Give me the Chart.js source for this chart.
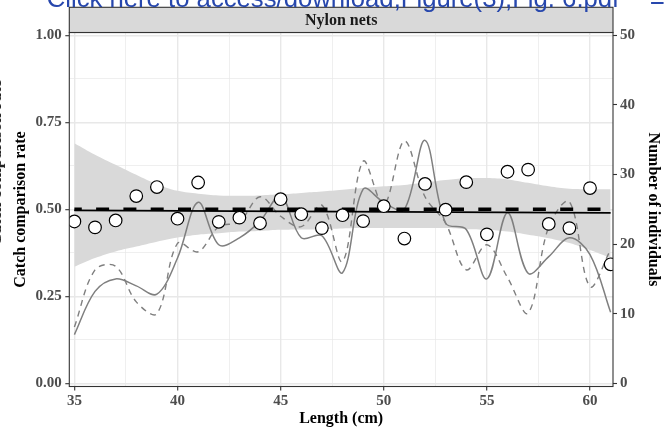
<!DOCTYPE html>
<html>
<head>
<meta charset="utf-8">
<script src="https://cdn.jsdelivr.net/npm/chart.js@4.4.1/dist/chart.umd.min.js"></script>
<style>
  html, body { margin: 0; padding: 0; background: #fff; }
  #wrap { width: 668px; height: 435px; position: relative; }
</style>
</head>
<body>
<div id="wrap"><canvas id="chart" width="668" height="435"></canvas></div>
<script>
// Length classes (cm)
const LENGTHS = [35,36,37,38,39,40,41,42,43,44,45,46,47,48,49,50,51,52,53,54,55,56,57,58,59,60,61];

// Observed catch comparison rate per length class
const CCR = [0.465,0.448,0.468,0.538,0.564,0.473,0.577,0.464,0.476,0.460,0.529,0.486,0.446,0.483,
             0.466,0.509,0.416,0.573,0.499,0.578,0.428,0.608,0.614,0.458,0.446,0.561,0.342];

// Number of individuals caught (right axis): test gear (solid) and control gear (dashed)
const COUNT_TEST = [7.0,13.2,15.0,14.0,12.8,18.0,26.0,19.9,20.9,23.3,26.9,20.9,21.2,15.9,
                    27.9,26.0,25.0,34.9,23.0,22.1,15.0,24.5,15.8,18.2,20.9,18.5,10.2];
const COUNT_CONTROL = [8.1,16.3,16.8,11.7,10.0,20.1,18.9,22.5,23.2,26.8,24.0,22.5,25.6,17.5,
                       31.9,25.6,34.8,26.8,23.0,16.3,19.9,15.2,10.1,22.5,26.1,13.9,19.2];

// Confidence band of the fitted curve
const CI_UPPER = [0.690,0.657,0.628,0.599,0.572,0.553,0.545,0.540,0.539,0.540,0.543,0.547,0.551,0.556,
                  0.561,0.566,0.570,0.577,0.584,0.589,0.590,0.586,0.576,0.566,0.559,0.558,0.558];
const CI_LOWER = [0.335,0.360,0.379,0.393,0.407,0.419,0.427,0.431,0.436,0.438,0.441,0.442,0.443,0.445,
                  0.446,0.446,0.446,0.446,0.446,0.443,0.441,0.436,0.427,0.417,0.403,0.383,0.360];

// Fitted catch comparison curve and the 0.5 reference line
const FIT_X = [35, 61];
const FIT_Y = [0.497, 0.490];
const REF_X = [35, 61];
const REF_Y = [0.5, 0.5];

// Axis ticks
const X_TICKS = [35, 40, 45, 50, 55, 60];
const Y_TICKS = [0, 0.25, 0.5, 0.75, 1];
const RIGHT_TICKS = [0, 10, 20, 30, 40, 50];

const PANEL_TITLE = 'Nylon nets';
const X_TITLE = 'Length (cm)';
const Y_TITLE = 'Catch comparison rate';
const RIGHT_TITLE = 'Number of individuals';
const LINK_TEXT = 'Click here to access/download;Figure(3);Fig. 6.pdf';

const SERIF = "'Liberation Serif', 'Times New Roman', serif";
const STRIP_TOP = 7.3;

function withMinor(major) {
  const out = [];
  major.forEach((v, i) => {
    out.push(v);
    if (i < major.length - 1) out.push((v + major[i + 1]) / 2);
  });
  return out;
}
const X_ALL = withMinor(X_TICKS);
const Y_ALL = withMinor(Y_TICKS);

const pts = (xs, ys) => xs.map((x, i) => ({x, y: ys[i]}));
const isMajor = (list, c) => c.tick && list.includes(c.tick.value);

const panelDecor = {
  id: 'panelDecor',
  afterDatasetsDraw(chart) {
    const {ctx, chartArea: a} = chart;
    ctx.save();
    ctx.strokeStyle = '#333333';
    ctx.lineWidth = 1.1;
    ctx.strokeRect(a.left, a.top, a.right - a.left, a.bottom - a.top);
    ctx.restore();
  },
  afterDraw(chart) {
    const {ctx, chartArea: a} = chart;
    const cx = (a.left + a.right) / 2;
    const cy = (a.top + a.bottom) / 2;
    ctx.save();

    // facet strip
    ctx.fillStyle = '#d9d9d9';
    ctx.fillRect(a.left, STRIP_TOP, a.right - a.left, a.top - STRIP_TOP);
    ctx.strokeStyle = '#333333';
    ctx.lineWidth = 1.1;
    ctx.strokeRect(a.left, STRIP_TOP, a.right - a.left, a.top - STRIP_TOP);
    ctx.fillStyle = '#1a1a1a';
    ctx.font = 'bold 16px ' + SERIF;
    ctx.textAlign = 'center';
    ctx.textBaseline = 'middle';
    ctx.fillText(PANEL_TITLE, cx, (STRIP_TOP + a.top) / 2 + 0.5);

    // axis titles
    ctx.fillStyle = '#000';
    ctx.fillText(X_TITLE, cx, 419);

    ctx.save();
    ctx.translate(21, cy);
    ctx.rotate(-Math.PI / 2);
    ctx.fillText(Y_TITLE, 0, 0);
    ctx.restore();

    // neighbouring label, mostly off the left edge
    ctx.save();
    ctx.fillStyle = '#222';
    ctx.translate(-3.3, 163);
    ctx.rotate(-Math.PI / 2);
    ctx.font = 'bold 17px ' + SERIF;
    ctx.fillText(Y_TITLE, 0, 0);
    ctx.restore();

    ctx.save();
    ctx.translate(653, cy);
    ctx.rotate(Math.PI / 2);
    ctx.fillText(RIGHT_TITLE, 0, 0);
    ctx.restore();

    // download link banner across the top
    ctx.fillStyle = '#2747ad';
    ctx.font = "20px 'Liberation Sans', Arial, sans-serif";
    const w20 = ctx.measureText(LINK_TEXT).width;
    const size = 20 * 573 / w20;
    ctx.font = size + "px 'Liberation Sans', Arial, sans-serif";
    ctx.textAlign = 'left';
    ctx.textBaseline = 'alphabetic';
    ctx.fillText(LINK_TEXT, 46.7, 7);
    ctx.fillText('\u2261', 650, 7);
    ctx.restore();
  }
};

const tickFont = { family: SERIF, size: 15, weight: 'bold' };

new Chart(document.getElementById('chart'), {
  type: 'line',
  data: {
    datasets: [
      {
        data: pts(LENGTHS, CI_UPPER),
        fill: 1,
        backgroundColor: '#d9d9d9',
        borderWidth: 0,
        pointRadius: 0,
        tension: 0.4,
        order: 10
      },
      {
        data: pts(LENGTHS, CI_LOWER),
        fill: false,
        borderWidth: 0,
        pointRadius: 0,
        tension: 0.4,
        order: 10
      },
      {
        data: pts(LENGTHS, COUNT_TEST),
        yAxisID: 'y2',
        borderColor: '#7f7f7f',
        borderWidth: 1.5,
        pointRadius: 0,
        tension: 0.35,
        fill: false,
        order: 6
      },
      {
        data: pts(LENGTHS, COUNT_CONTROL),
        yAxisID: 'y2',
        borderColor: '#7f7f7f',
        borderWidth: 1.4,
        borderDash: [6, 5],
        pointRadius: 0,
        tension: 0.35,
        fill: false,
        order: 5
      },
      {
        data: pts(FIT_X, FIT_Y),
        borderColor: '#000',
        borderWidth: 1.8,
        pointRadius: 0,
        fill: false,
        order: 3
      },
      {
        data: pts(REF_X, REF_Y),
        borderColor: '#000',
        borderWidth: 3.6,
        borderDash: [13, 14.3],
        borderDashOffset: 5.6,
        borderCapStyle: 'butt',
        pointRadius: 0,
        fill: false,
        order: 2
      },
      {
        type: 'scatter',
        data: pts(LENGTHS, CCR),
        showLine: false,
        pointRadius: 6.3,
        pointBackgroundColor: '#ffffff',
        pointBorderColor: '#000000',
        pointBorderWidth: 1.2,
        order: 0
      }
    ]
  },
  options: {
    responsive: false,
    animation: false,
    devicePixelRatio: 1,
    events: [],
    layout: { padding: { top: 32.5, left: 0, right: 0, bottom: 0 } },
    plugins: { legend: { display: false }, tooltip: { enabled: false } },
    scales: {
      x: {
        type: 'linear',
        min: 34.753,
        max: 61.115,
        afterFit: s => { s.height = 48.5; },
        afterBuildTicks: s => { s.ticks = X_ALL.map(v => ({value: v})); },
        border: { display: false },
        grid: {
          color: '#e8e8e8',
          lineWidth: c => isMajor(X_TICKS, c) ? 1.4 : 0.7,
          tickColor: c => isMajor(X_TICKS, c) ? '#333333' : 'rgba(0,0,0,0)',
          tickLength: 4,
          tickWidth: 1.1
        },
        ticks: {
          autoSkip: false,
          maxRotation: 0,
          padding: 2,
          color: '#4d4d4d',
          font: tickFont,
          callback: v => X_TICKS.includes(v) ? String(v) : ''
        }
      },
      y: {
        type: 'linear',
        position: 'left',
        min: -0.0092,
        max: 1.0081,
        afterFit: s => { s.width = 69.3; },
        afterBuildTicks: s => { s.ticks = Y_ALL.map(v => ({value: v})); },
        border: { display: false },
        grid: {
          color: '#e8e8e8',
          lineWidth: c => isMajor(Y_TICKS, c) ? 1.4 : 0.7,
          tickColor: c => isMajor(Y_TICKS, c) ? '#333333' : 'rgba(0,0,0,0)',
          tickLength: 4,
          tickWidth: 1.1
        },
        ticks: {
          autoSkip: false,
          padding: 3.5,
          color: '#4d4d4d',
          font: tickFont,
          callback: v => Y_TICKS.includes(v) ? v.toFixed(2) : ''
        }
      },
      y2: {
        type: 'linear',
        position: 'right',
        min: -0.46,
        max: 50.4,
        afterFit: s => { s.width = 55; },
        afterBuildTicks: s => { s.ticks = RIGHT_TICKS.map(v => ({value: v})); },
        border: { display: false },
        grid: {
          drawOnChartArea: false,
          tickColor: '#333333',
          tickLength: 4,
          tickWidth: 1.1
        },
        ticks: {
          autoSkip: false,
          padding: 3,
          color: '#4d4d4d',
          font: tickFont
        }
      }
    }
  },
  plugins: [panelDecor]
});
</script>
</body>
</html>
